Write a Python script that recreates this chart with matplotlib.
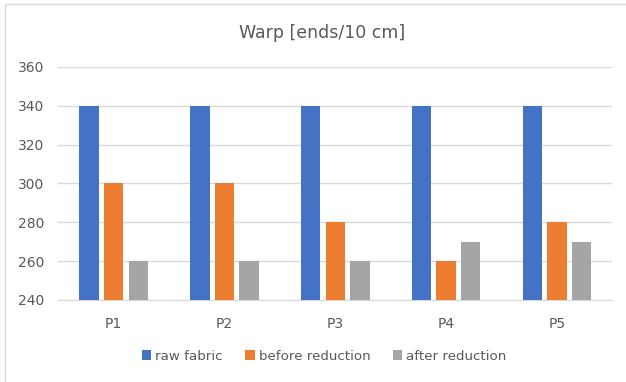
import matplotlib.pyplot as plt
import numpy as np
from matplotlib.patches import Rectangle

# Data
categories = ['P1', 'P2', 'P3', 'P4', 'P5']
raw_fabric = [340, 340, 340, 340, 340]
before_reduction = [300, 300, 280, 260, 280]
after_reduction = [260, 260, 260, 270, 270]

series = [('raw fabric', raw_fabric, '#4472C4'),
          ('before reduction', before_reduction, '#ED7D31'),
          ('after reduction', after_reduction, '#A5A5A5')]

fig = plt.figure(figsize=(6.26, 3.82), dpi=100)
ax = fig.add_axes([0.093, 0.2147, 0.885, 0.61])

x = np.arange(len(categories))
bar_width = 0.175
step = 0.222

for i, (label, vals, color) in enumerate(series):
    ax.bar(x + (i - 1) * step, np.array(vals) - 240, bottom=240,
           width=bar_width, color=color, label=label, zorder=3)

ax.set_ylim(240, 360)
ax.set_xlim(-0.5, len(categories) - 0.5)
ax.set_yticks(np.arange(240, 361, 20))
ax.set_xticks(x)
ax.set_xticklabels(categories)
ax.grid(axis='y', color='#D9D9D9', linewidth=1, zorder=0)
for side in ['top', 'right', 'left']:
    ax.spines[side].set_visible(False)
ax.spines['bottom'].set_color('#D9D9D9')
ax.tick_params(axis='both', length=0, colors='#595959', labelsize=10)
ax.tick_params(axis='x', pad=12)
ax.tick_params(axis='y', pad=10)

fig.text(0.515, 0.913, 'Warp [ends/10 cm]', ha='center', va='center',
         fontsize=12.5, color='#595959')

leg = fig.legend(loc='center', bbox_to_anchor=(0.518, 0.068), ncol=3,
                 frameon=False, fontsize=9.6, handlelength=0.7,
                 handleheight=0.7, handletextpad=0.3, columnspacing=1.7)
for t in leg.get_texts():
    t.set_color('#595959')

# light outer chart border
fig.patches.append(Rectangle((0.008, -0.01), 1.5, 0.999, transform=fig.transFigure,
                             fill=False, edgecolor='#D9D9D9', linewidth=1))

fig.savefig('out.png', dpi=100)
